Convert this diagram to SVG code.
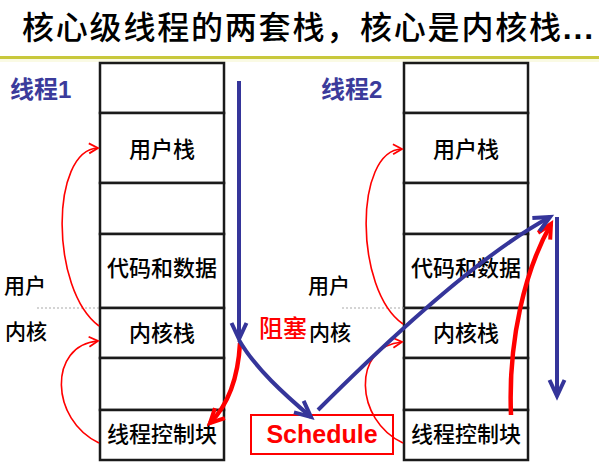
<svg xmlns="http://www.w3.org/2000/svg" width="599" height="466" viewBox="0 0 599 466">
<style>
.cjk{font-family:"Noto Sans CJK SC","Liberation Sans",sans-serif}
.row{fill:#ffffff;stroke:#1a1a1a;stroke-width:2.5}
.st{font-size:22px;fill:#000;text-anchor:middle;font-weight:500}
.lab{font-size:21px;fill:#000;font-weight:500}
.thr{font-size:24px;font-weight:bold;fill:#3b3b9b}
.blue{fill:none;stroke:#35359a;stroke-width:4}
.redT{fill:none;stroke:#ff0000;stroke-width:4.5}
.redt{fill:none;stroke:#ff0000;stroke-width:1.6}
.dot{stroke:#aaaaaa;stroke-width:1.2;stroke-dasharray:2 2}
</style>
<defs>
<marker id="ab" markerUnits="userSpaceOnUse" viewBox="-20 -12 24 24" markerWidth="24" markerHeight="24" refX="0" refY="0" orient="auto" overflow="visible">
<path d="M-16,-7.5 L0,0 L-16,7.5" fill="none" stroke="#35359a" stroke-width="4" stroke-linejoin="miter"/>
</marker>
<marker id="ar" markerUnits="userSpaceOnUse" viewBox="-20 -12 24 24" markerWidth="24" markerHeight="24" refX="0" refY="0" orient="auto" overflow="visible">
<path d="M-14,-7 L0,0 L-14,7" fill="none" stroke="#ff0000" stroke-width="4" stroke-linejoin="miter"/>
</marker>
<marker id="at" markerUnits="userSpaceOnUse" viewBox="-12 -8 14 16" markerWidth="14" markerHeight="16" refX="0" refY="0" orient="auto" overflow="visible">
<path d="M-9,-5 L0,0 L-9,5" fill="none" stroke="#ff0000" stroke-width="1.8"/>
</marker>
</defs>
<rect width="599" height="466" fill="#ffffff"/>
<g id="title">
<text x="22" y="39" class="cjk" font-size="32" font-weight="500" letter-spacing="1.8" fill="#000">核心级线程的两套栈，核心是内核栈<tspan font-family="Liberation Sans,sans-serif" font-weight="bold">...</tspan></text>
<rect x="0" y="56" width="599" height="3" fill="#c8c83c"/>
<rect x="0" y="59" width="599" height="3" fill="#fafae4"/>
</g>
<g id="stack1">
<rect class="row" x="100" y="63" width="124" height="50"/>
<rect class="row" x="100" y="113" width="124" height="70"/>
<rect class="row" x="100" y="183" width="124" height="51"/>
<rect class="row" x="100" y="234" width="124" height="74"/>
<rect class="row" x="100" y="308" width="124" height="50"/>
<rect class="row" x="100" y="358" width="124" height="52"/>
<rect class="row" x="100" y="410" width="124" height="50"/>
<text class="cjk st" x="162" y="157">用户栈</text>
<text class="cjk st" x="162" y="276">代码和数据</text>
<text class="cjk st" x="162" y="341">内核栈</text>
<text class="cjk st" x="162" y="442">线程控制块</text>
</g>
<g id="stack2">
<rect class="row" x="404" y="63" width="124" height="50"/>
<rect class="row" x="404" y="113" width="124" height="70"/>
<rect class="row" x="404" y="183" width="124" height="51"/>
<rect class="row" x="404" y="234" width="124" height="74"/>
<rect class="row" x="404" y="308" width="124" height="50"/>
<rect class="row" x="404" y="358" width="124" height="52"/>
<rect class="row" x="404" y="410" width="124" height="50"/>
<text class="cjk st" x="466" y="157">用户栈</text>
<text class="cjk st" x="466" y="276">代码和数据</text>
<text class="cjk st" x="466" y="341">内核栈</text>
<text class="cjk st" x="466" y="442">线程控制块</text>
</g>
<g id="labels">
<text class="cjk thr" x="10" y="98">线程<tspan font-family="Liberation Sans,sans-serif">1</tspan></text>
<text class="cjk thr" x="321" y="98">线程<tspan font-family="Liberation Sans,sans-serif">2</tspan></text>
<line class="dot" x1="37" y1="308" x2="100" y2="308"/>
<line class="dot" x1="342" y1="308" x2="404" y2="308"/>
<text class="cjk lab" x="4" y="293">用户</text>
<text class="cjk lab" x="5" y="339">内核</text>
<text class="cjk lab" x="308" y="293">用户</text>
<text class="cjk lab" x="309" y="340">内核</text>
<text class="cjk" x="259" y="337" font-size="24" font-weight="500" fill="#ff0000">阻塞</text>
</g>
<g id="schedule">
<rect x="251" y="415" width="142" height="39" fill="#ffffff" stroke="#ff0000" stroke-width="2"/>
<text x="322" y="443" font-family="Liberation Sans,sans-serif" font-size="25" font-weight="bold" fill="#ff0000" text-anchor="middle">Schedule</text>
</g>
<g id="connectors">
<path class="redt" d="M99,326 C50,290 50,150 98,148" marker-end="url(#at)"/>
<path class="redt" d="M99,443 C50,420 48,345 98,341" marker-end="url(#at)"/>
<path class="redt" d="M403,324 C354,290 354,150 402,149" marker-end="url(#at)"/>
<path class="redt" d="M403,443 C354,420 352,346 402,342" marker-end="url(#at)"/>
<path class="redT" d="M240,343 C238,380 228,405 210,423" marker-end="url(#ar)"/>
<path class="redT" d="M511,415 C508,340 525,270 551,224" marker-end="url(#ar)"/>
<path class="blue" d="M239,81 L239,339" marker-end="url(#ab)"/>
<path class="blue" d="M239,340 C255,368 285,395 311,417" marker-end="url(#ab)"/>
<path class="blue" d="M318,410 Q465,263 550,217" marker-end="url(#ab)"/>
<path class="blue" d="M557,217 L557,396" marker-end="url(#ab)"/>
</g>
</svg>
